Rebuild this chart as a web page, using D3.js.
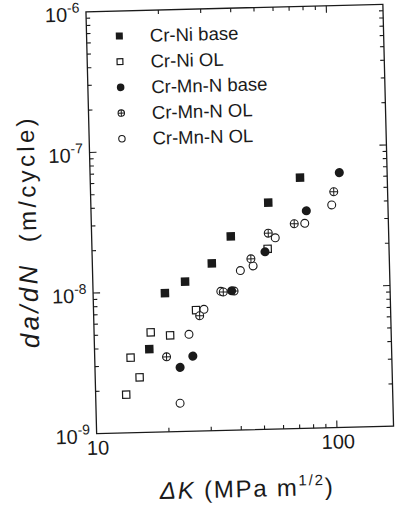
<!DOCTYPE html>
<html>
<head>
<meta charset="utf-8">
<script src="https://cdn.jsdelivr.net/npm/d3@7"></script>
<style>
  html, body { margin: 0; padding: 0; background: #fff; }
  svg { display: block; }
  text { font-family: "Liberation Sans", Arial, Helvetica, sans-serif; fill: #1a1a1a; }
</style>
</head>
<body>
<svg id="chart" width="398" height="517"></svg>
<script>
// ---- data ----
const crNiBaseK   = [16.9, 19.9, 24.2, 31.4, 37.9, 54.7, 74.6];
const crNiBaseR   = [3.9e-9, 9.7e-9, 1.16e-8, 1.55e-8, 2.39e-8, 4.08e-8, 6.06e-8];
const crNiOLK     = [13.4, 14.1, 15.3, 17.2, 20.7, 26.7, 53.8];
const crNiOLR     = [1.87e-9, 3.42e-9, 2.47e-9, 5.14e-9, 4.85e-9, 7.26e-9, 1.92e-8];
const crMnNBaseK  = [22.6, 25.6, 37.7, 52.4, 78.6, 108.8];
const crMnNBaseR  = [2.86e-9, 3.42e-9, 9.8e-9, 1.83e-8, 3.52e-8, 6.48e-8];
const crMnNOL1K   = [19.9, 27.6, 34.8, 38.6, 45.7, 54.3, 69.8, 102.7];
const crMnNOL1R   = [3.42e-9, 6.6e-9, 9.64e-9, 9.75e-9, 1.64e-8, 2.48e-8, 2.86e-8, 4.75e-8];
const crMnNOL2K   = [22.4, 24.8, 28.8, 34.0, 41.2, 46.6, 58.0, 77.2, 100.4];
const crMnNOL2R   = [1.59e-9, 4.89e-9, 7.32e-9, 9.76e-9, 1.36e-8, 1.46e-8, 2.29e-8, 2.87e-8, 3.83e-8];

const legendLabels = ["Cr-Ni base", "Cr-Ni OL", "Cr-Mn-N base", "Cr-Mn-N OL", "Cr-Mn-N OL"];
const markerTypes  = ["fsquare", "osquare", "fcircle", "xcircle", "ocircle"];
const xTickLabels  = ["10", "100"];
const yTickExps    = ["-9", "-8", "-7", "-6"];
const xDomain = [10, 172];
const yDomain = [1e-9, 1e-6];

// ---- layout ----
const L = 91.25, R = 388.25, T = 8, B = 430;
const svg = d3.select("#chart");
const g = svg.append("g").attr("transform", "rotate(-1.45, 239.75, 219)");

const x = d3.scaleLog().domain(xDomain).range([L, R]);
const y = d3.scaleLog().domain(yDomain).range([B, T]);
const ink = "#1a1a1a";

// frame
g.append("rect").attr("x", L).attr("y", T).attr("width", R - L).attr("height", B - T)
  .attr("fill", "none").attr("stroke", ink).attr("stroke-width", 1.3);

// ticks (inward on all four sides)
const xt = [];
for (let d = 10; d <= 100; d *= 10) for (let m = 1; m <= 9; m++) { const v = m * d; if (v > xDomain[0] && v < xDomain[1]) xt.push(v); }
const yt = [];
for (let e = -9; e < -6; e++) for (let m = 1; m <= 9; m++) { const v = m * Math.pow(10, e); if (v > yDomain[0] * 1.001 && v < yDomain[1] * 0.999) yt.push(v); }
const isMajor = v => Math.abs(Math.log10(v) - Math.round(Math.log10(v))) < 1e-6;

const ax = g.append("g").attr("stroke", ink).attr("stroke-width", 1.1);
xt.forEach(v => {
  const len = isMajor(v) ? 7 : 4;
  ax.append("line").attr("x1", x(v)).attr("x2", x(v)).attr("y1", B).attr("y2", B - len);
  ax.append("line").attr("x1", x(v)).attr("x2", x(v)).attr("y1", T).attr("y2", T + len);
});
yt.forEach(v => {
  const len = isMajor(v) ? 7 : 4;
  ax.append("line").attr("y1", y(v)).attr("y2", y(v)).attr("x1", L).attr("x2", L + len);
  ax.append("line").attr("y1", y(v)).attr("y2", y(v)).attr("x1", R).attr("x2", R - len);
});

// x tick labels
[10, 100].forEach((v, i) => {
  g.append("text").attr("x", x(v) + 1).attr("y", B + 21).attr("text-anchor", "middle")
    .attr("font-size", 20).text(xTickLabels[i]);
});
// y tick labels 10^n
[1e-9, 1e-8, 1e-7, 1e-6].forEach((v, i) => {
  const t = g.append("text").attr("x", L - 6.5).attr("y", y(v) + 9.5).attr("text-anchor", "end").attr("font-size", 20);
  t.append("tspan").text("10");
  t.append("tspan").attr("dy", -9).attr("font-size", 14).text(yTickExps[i]);
});

// axis titles
const xl = g.append("text").attr("x", 239.5).attr("y", 497).attr("text-anchor", "middle")
  .attr("font-size", 24).attr("textLength", 173);
xl.append("tspan").attr("font-style", "italic").text("\u0394K");
xl.append("tspan").text(" (MPa m");
xl.append("tspan").attr("dy", -10).attr("font-size", 15).text("1/2");
xl.append("tspan").attr("dy", 10).text(")");

const yl = g.append("text").attr("transform", "translate(36,228) rotate(-90)")
  .attr("text-anchor", "middle").attr("font-size", 24).attr("textLength", 230);
yl.append("tspan").attr("font-style", "italic").attr("font-size", 26).text("da/dN");
yl.append("tspan").text("\u00a0\u00a0(m/cycle)");

// markers
function drawMarker(sel, type, cx, cy, s) {
  const h = s / 2;
  if (type === "fsquare") sel.append("rect").attr("x", cx - h).attr("y", cy - h).attr("width", s).attr("height", s).attr("fill", ink);
  else if (type === "osquare") sel.append("rect").attr("x", cx - h + 0.6).attr("y", cy - h + 0.6).attr("width", s - 1.2).attr("height", s - 1.2).attr("fill", "#fff").attr("stroke", ink).attr("stroke-width", 1.2);
  else if (type === "fcircle") sel.append("circle").attr("cx", cx).attr("cy", cy).attr("r", h + 0.3).attr("fill", ink);
  else if (type === "ocircle") sel.append("circle").attr("cx", cx).attr("cy", cy).attr("r", h - 0.3).attr("fill", "#fff").attr("stroke", ink).attr("stroke-width", 1.1);
  else if (type === "xcircle") {
    sel.append("circle").attr("cx", cx).attr("cy", cy).attr("r", h - 0.3).attr("fill", "#fff").attr("stroke", ink).attr("stroke-width", 1.1);
    sel.append("line").attr("x1", cx - h + 0.3).attr("x2", cx + h - 0.3).attr("y1", cy).attr("y2", cy).attr("stroke", ink).attr("stroke-width", 1);
    sel.append("line").attr("y1", cy - h + 0.3).attr("y2", cy + h - 0.3).attr("x1", cx).attr("x2", cx).attr("stroke", ink).attr("stroke-width", 1);
  }
}

const series = [
  { k: crNiBaseK, r: crNiBaseR, type: "fsquare" },
  { k: crNiOLK, r: crNiOLR, type: "osquare" },
  { k: crMnNOL2K, r: crMnNOL2R, type: "ocircle" },
  { k: crMnNOL1K, r: crMnNOL1R, type: "xcircle" },
  { k: crMnNBaseK, r: crMnNBaseR, type: "fcircle" }
];
const pts = g.append("g");
series.forEach(s => s.k.forEach((k, i) => drawMarker(pts, s.type, x(k), y(s.r[i]), 8.5)));

// legend
const lg = g.append("g");
legendLabels.forEach((lab, i) => {
  const cy = 33 + i * 25.7;
  drawMarker(lg, markerTypes[i], 124, cy, 7);
  lg.append("text").attr("x", 154.6).attr("y", cy + 6.6).attr("font-size", 18.5).text(lab);
});
</script>
</body>
</html>
